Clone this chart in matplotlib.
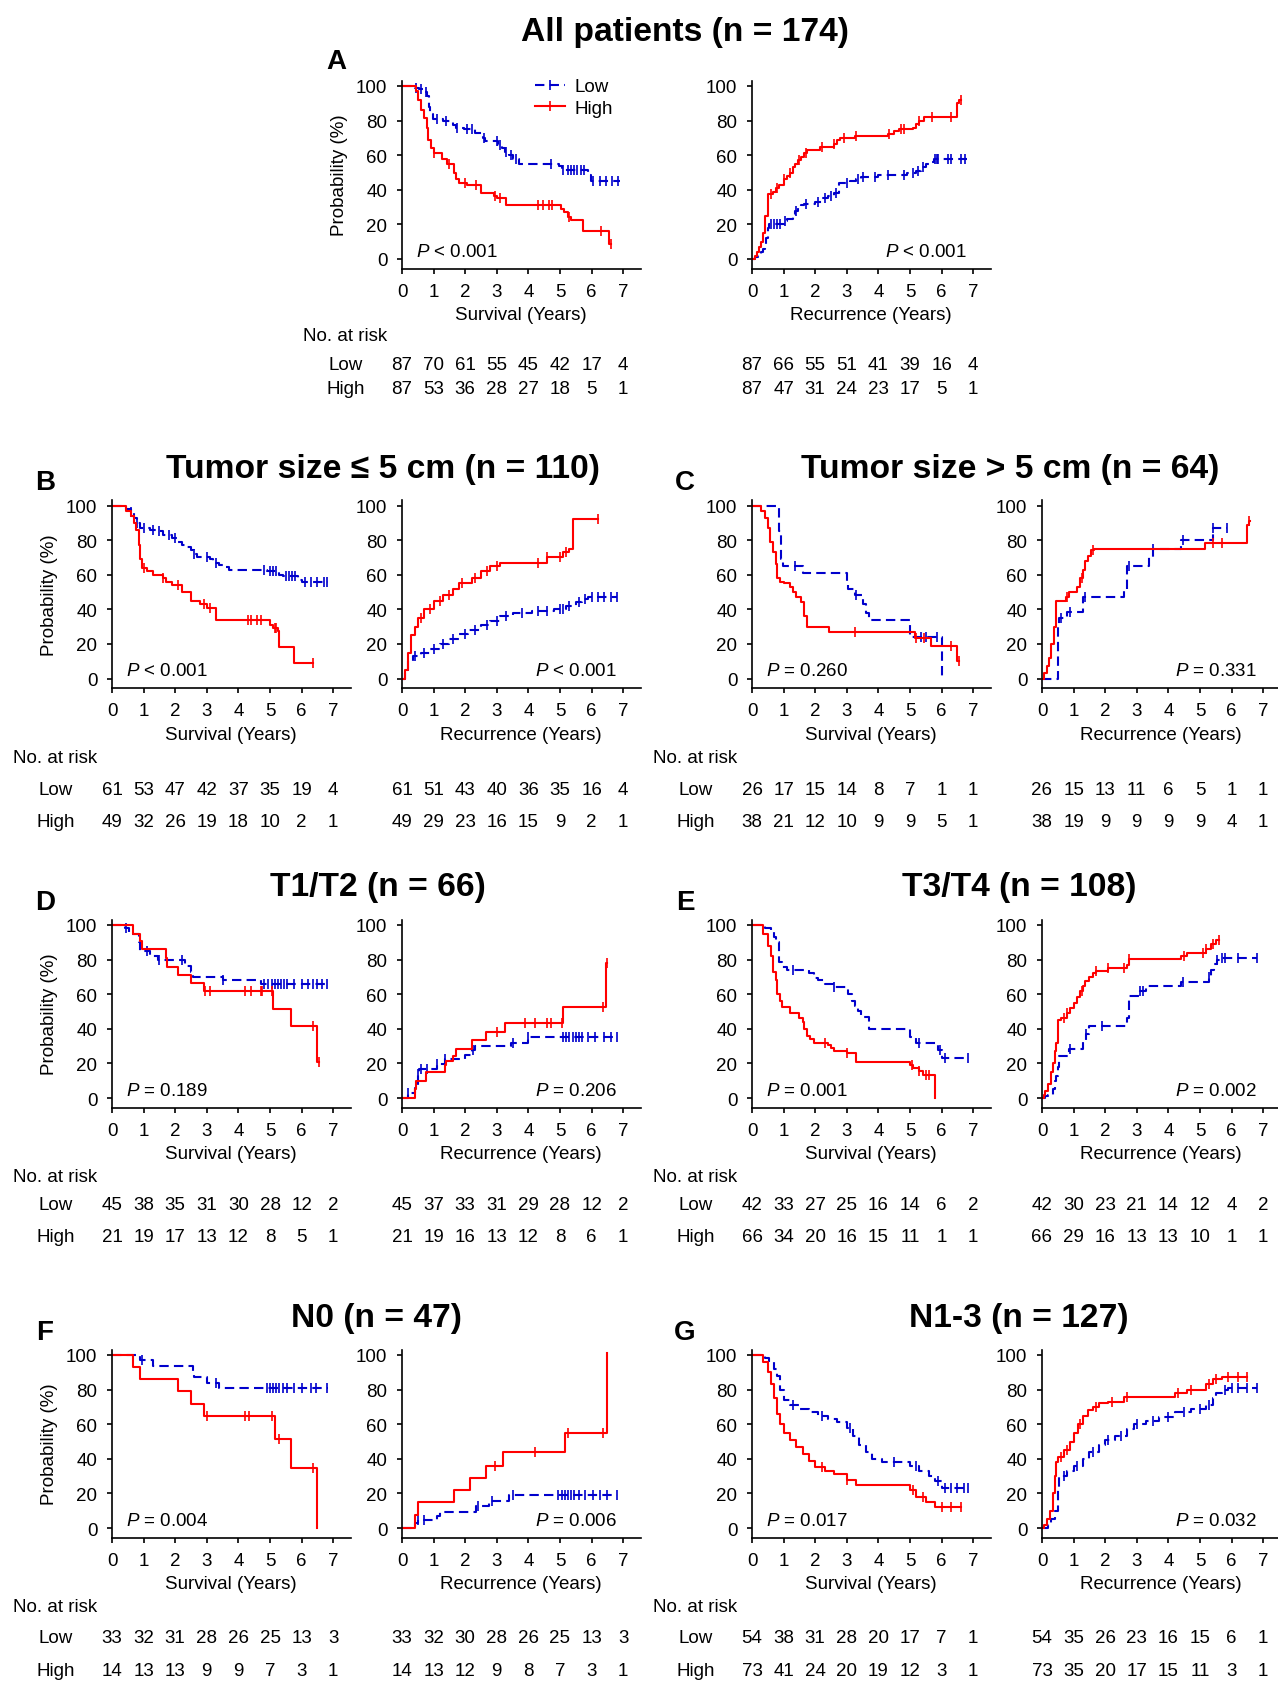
import numpy as np
import matplotlib
matplotlib.use('Agg')
import matplotlib.pyplot as plt
from matplotlib import font_manager
from matplotlib.lines import Line2D
from matplotlib.transforms import blended_transform_factory

# the original uses a condensed Helvetica-like face; take the narrow Liberation cut if it is there
_names = {f.name for f in font_manager.fontManager.ttflist}
if 'Liberation Sans Narrow' in _names:
    FONT, FS = 'Liberation Sans Narrow', 15.5
else:
    FONT, FS = 'Liberation Sans', 13.5
plt.rcParams['font.family'] = [FONT, 'Liberation Sans', 'DejaVu Sans']
plt.rcParams['mathtext.fontset'] = 'custom'
plt.rcParams['mathtext.rm'] = FONT
plt.rcParams['mathtext.it'] = FONT + ':italic'

# ---------------- data ----------------
years = [0, 1, 2, 3, 4, 5, 6, 7]

# A  all patients
a_os_low = [(0, 100), (0.4, 99), (0.55, 98), (0.7, 96.5), (0.8, 94), (0.85, 88), (0.9, 84), (0.97, 81),
            (1.3, 79.5), (1.6, 77.5), (1.7, 76), (1.95, 75), (2.3, 73), (2.55, 70), (2.62, 68), (3.05, 66),
            (3.15, 64), (3.25, 62), (3.4, 60), (3.5, 58), (3.7, 55), (4.98, 53.5), (5.05, 51.5), (5.9, 48.5),
            (5.97, 45), (6.9, 45)]
a_os_low_c = [0.45, 0.6, 0.75, 1.1, 1.4, 1.75, 2.05, 2.2, 2.6, 3.0, 3.1, 3.3, 3.45, 3.6, 4.7, 5.1, 5.25,
              5.35, 5.45, 5.55, 5.65, 5.75, 6.05, 6.25, 6.45, 6.65, 6.85]
a_os_high = [(0, 100), (0.45, 97), (0.5, 92), (0.6, 86), (0.7, 81.5), (0.78, 76), (0.83, 69), (0.93, 64),
             (1.0, 61), (1.27, 58), (1.43, 55), (1.65, 49.5), (1.7, 46.5), (1.8, 44), (2.07, 42.5), (2.5, 38),
             (2.9, 36.5), (3.0, 35), (3.29, 31), (5.04, 29), (5.14, 27), (5.25, 24.5), (5.35, 22.5),
             (5.73, 16), (6.55, 8.7), (6.6, 8.7)]
a_os_high_c = [1.0, 1.5, 2.0, 2.35, 2.95, 3.1, 4.3, 4.45, 4.65, 4.75, 5.3, 6.3, 6.6]
a_rec_low = [(0, 0), (0.1, 1), (0.2, 2), (0.3, 4), (0.35, 6), (0.4, 8), (0.45, 12), (0.5, 18), (0.55, 20),
             (1.0, 22), (1.1, 23), (1.3, 26), (1.35, 28), (1.45, 30), (1.55, 31), (1.65, 32), (2.0, 33),
             (2.2, 35), (2.4, 36.5), (2.6, 38), (2.75, 44), (3.1, 45), (3.3, 46.5), (3.45, 47.5), (4.0, 48.5),
             (4.9, 49.5), (5.2, 51), (5.35, 53), (5.5, 55), (5.6, 56), (5.75, 58), (6.8, 58)]
a_rec_low_c = [0.6, 0.7, 0.8, 0.9, 1.05, 1.4, 1.7, 2.1, 2.3, 2.5, 2.65, 3.0, 3.35, 3.5, 3.9, 4.3, 4.8, 5.1,
               5.25, 5.4, 5.8, 5.85, 5.9, 6.2, 6.3, 6.6, 6.75]
a_rec_high = [(0, 0), (0.08, 2), (0.15, 4), (0.22, 7), (0.28, 10), (0.35, 15), (0.42, 25), (0.5, 37.5),
              (0.65, 39), (0.75, 41), (0.85, 43), (1.0, 46), (1.1, 48), (1.2, 50), (1.3, 53), (1.37, 55),
              (1.45, 57), (1.55, 59), (1.65, 61), (1.75, 63), (2.15, 64.5), (2.6, 66.5), (2.7, 68.5),
              (2.8, 70), (3.25, 71), (4.3, 72.5), (4.5, 74), (4.65, 75), (5.1, 76), (5.2, 78), (5.3, 80),
              (5.45, 82), (6.5, 90), (6.55, 92), (6.6, 92)]
a_rec_high_c = [0.6, 0.8, 1.0, 1.2, 1.5, 1.7, 2.2, 2.6, 2.9, 3.3, 4.35, 4.7, 4.8, 5.3, 5.7, 6.3, 6.6]

# B  tumor size <= 5 cm
b_os_low = [(0, 100), (0.45, 98), (0.6, 96), (0.7, 93), (0.8, 90), (0.9, 87), (1.2, 86), (1.4, 85),
            (1.6, 83), (1.9, 81), (2.1, 79), (2.2, 77), (2.3, 76), (2.5, 74), (2.6, 72), (2.7, 70),
            (3.1, 69), (3.2, 67), (3.4, 65.5), (3.6, 64.5), (3.7, 63), (4.9, 62), (5.3, 60), (5.4, 59),
            (5.9, 57), (6.0, 56), (6.85, 56)]
b_os_low_c = [0.6, 0.8, 1.0, 1.3, 1.5, 1.8, 2.0, 2.6, 3.0, 3.3, 4.8, 5.0, 5.1, 5.2, 5.5, 5.6, 5.7, 5.8,
              6.1, 6.3, 6.5, 6.7, 6.8]
b_os_high = [(0, 100), (0.45, 97), (0.6, 94), (0.7, 90), (0.75, 86), (0.85, 77), (0.9, 69), (0.95, 64),
             (1.1, 62), (1.3, 60), (1.6, 58), (1.7, 56), (1.9, 54), (2.2, 50), (2.5, 45), (2.8, 43),
             (3.0, 41), (3.3, 34), (5.0, 31), (5.1, 29), (5.25, 27.5), (5.3, 18), (5.75, 9), (6.35, 9)]
b_os_high_c = [1.0, 1.6, 2.1, 2.9, 3.1, 4.3, 4.4, 4.6, 4.7, 5.15, 5.2, 6.35]
b_rec_low = [(0, 0), (0.1, 5), (0.2, 10), (0.35, 13), (0.6, 15), (0.9, 17), (1.2, 20), (1.5, 23), (1.8, 26),
             (2.1, 28), (2.5, 31), (2.8, 33), (3.1, 36), (3.5, 38), (4.1, 39), (4.8, 40), (5.2, 42),
             (5.5, 44), (5.7, 46), (5.9, 47), (6.8, 47)]
b_rec_low_c = [0.4, 0.7, 1.0, 1.3, 1.6, 2.0, 2.3, 2.7, 3.0, 3.3, 3.8, 4.3, 4.6, 5.0, 5.1, 5.3, 5.6, 5.8,
               6.0, 6.2, 6.4, 6.6, 6.8]
b_rec_high = [(0, 0), (0.1, 5), (0.2, 15), (0.3, 25), (0.4, 30), (0.5, 35), (0.7, 40), (1.0, 45), (1.3, 48),
              (1.6, 52), (1.8, 55), (2.2, 58), (2.5, 62), (2.8, 65), (3.1, 67), (4.6, 70), (5.1, 73),
              (5.3, 75), (5.4, 92), (6.2, 92)]
b_rec_high_c = [0.6, 0.9, 1.2, 1.5, 1.9, 2.3, 2.7, 3.0, 4.3, 4.6, 5.0, 5.2, 6.2]

# C  tumor size > 5 cm
c_os_low = [(0, 100), (0.85, 85), (0.92, 69), (0.97, 65), (1.6, 61), (3.0, 56), (3.05, 52), (3.25, 48),
            (3.5, 43), (3.6, 38), (3.7, 34), (5.0, 24), (6.0, 0)]
c_os_low_c = [1.35, 3.3, 5.35, 5.5, 5.85]
c_os_high = [(0, 100), (0.3, 97), (0.42, 93), (0.5, 87), (0.58, 79), (0.68, 73), (0.75, 66), (0.8, 58),
             (0.9, 56), (1.0, 55), (1.2, 53), (1.3, 50), (1.4, 47), (1.55, 44), (1.65, 36), (1.75, 30),
             (2.45, 27), (5.15, 23.5), (5.65, 19), (6.5, 10), (6.55, 10)]
c_os_high_c = [3.25, 5.2, 5.45, 6.3, 6.55]
c_rec_low = [(0, 0), (0.5, 30), (0.55, 35), (0.8, 38.5), (1.3, 47), (2.6, 52), (2.7, 65), (3.4, 70),
             (3.5, 75), (4.4, 80), (5.4, 87), (5.85, 87)]
c_rec_low_c = [0.6, 0.9, 1.35, 2.75, 3.5, 4.45, 5.4, 5.85]
c_rec_high = [(0, 0), (0.05, 3), (0.15, 7), (0.22, 12), (0.3, 20), (0.38, 30), (0.45, 45), (0.75, 47),
              (0.85, 50), (1.1, 53), (1.2, 58), (1.3, 63), (1.35, 68), (1.45, 71), (1.55, 74), (1.65, 75),
              (5.15, 78.5), (6.5, 89), (6.55, 91), (6.58, 91)]
c_rec_high_c = [0.8, 1.25, 1.6, 5.4, 5.7, 6.55]

# D  T1/T2
d_os_low = [(0, 100), (0.4, 98), (0.55, 95), (0.85, 90), (0.9, 85), (1.2, 82), (1.45, 80), (2.3, 76.5),
            (2.5, 73), (2.55, 70), (3.5, 68), (4.7, 66), (6.85, 66)]
d_os_low_c = [0.45, 1.1, 1.5, 2.2, 3.5, 4.8, 4.95, 5.05, 5.15, 5.25, 5.35, 5.45, 5.55, 5.75, 6.0, 6.2,
              6.35, 6.5, 6.65, 6.8]
d_os_high = [(0, 100), (0.65, 95), (0.9, 90.5), (0.95, 86), (1.7, 81), (1.75, 76), (2.1, 71), (2.5, 66.5),
             (2.9, 62), (5.1, 51.5), (5.65, 41.5), (6.5, 21), (6.55, 21)]
d_os_high_c = [2.95, 3.1, 4.2, 4.4, 4.7, 4.75, 5.05, 6.35, 6.55]
d_rec_low = [(0, 0), (0.2, 3), (0.4, 6), (0.5, 14), (0.55, 16.5), (1.1, 19.5), (1.35, 22.5), (2.0, 25),
             (2.2, 28), (2.3, 30), (3.45, 32), (4.0, 35), (6.8, 35)]
d_rec_low_c = [0.2, 0.5, 0.6, 0.8, 1.1, 1.35, 2.25, 3.5, 4.0, 5.1, 5.2, 5.3, 5.4, 5.5, 5.6, 5.7, 5.9, 6.1,
               6.4, 6.6, 6.8]
d_rec_high = [(0, 0), (0.4, 5), (0.45, 10), (0.75, 15), (1.35, 19), (1.4, 21.5), (1.6, 24.5), (1.7, 28.5),
              (2.2, 33.5), (2.65, 38), (3.25, 43.5), (5.1, 52.5), (6.45, 78), (6.5, 78)]
d_rec_high_c = [3.0, 3.9, 4.2, 4.6, 4.7, 5.05, 6.35, 6.5]

# E  T3/T4
e_os_low = [(0, 100), (0.4, 98), (0.6, 96), (0.7, 93), (0.75, 90), (0.85, 86), (0.87, 78.5), (0.95, 76),
            (1.1, 74), (1.8, 72), (1.95, 71), (2.0, 69.5), (2.1, 68), (2.3, 66), (2.55, 64), (3.0, 63),
            (3.05, 60), (3.15, 56), (3.25, 53), (3.35, 50), (3.45, 47), (3.7, 40), (5.0, 35), (5.2, 32),
            (5.9, 28), (6.0, 23), (6.85, 23)]
e_os_low_c = [1.3, 2.6, 5.3, 5.95, 6.1, 6.85]
e_os_high = [(0, 100), (0.35, 95), (0.5, 88), (0.6, 82), (0.65, 73), (0.75, 68), (0.8, 60), (0.9, 56),
             (0.95, 52.5), (1.2, 49), (1.5, 46.5), (1.6, 44), (1.65, 40), (1.75, 36), (1.85, 34), (1.95, 32),
             (2.4, 30.5), (2.5, 29), (2.6, 27), (3.0, 26), (3.3, 21), (5.0, 19), (5.1, 17.5), (5.3, 15.5),
             (5.4, 13.5), (5.8, 0)]
e_os_high_c = [2.3, 3.0, 5.05, 5.3, 5.5, 5.6]
e_rec_low = [(0, 0), (0.1, 1), (0.2, 2), (0.35, 5), (0.4, 10), (0.45, 13), (0.5, 18), (0.55, 24),
             (0.85, 28.5), (1.3, 33), (1.4, 37), (1.5, 41.5), (2.7, 46.5), (2.75, 59), (3.1, 62), (3.3, 64.5),
             (4.4, 67), (5.3, 70), (5.35, 74), (5.45, 77.5), (5.55, 79.5), (5.65, 81), (6.8, 81)]
e_rec_low_c = [0.9, 1.4, 1.9, 3.1, 3.2, 4.45, 5.3, 5.55, 5.7, 5.8, 6.2, 6.8]
e_rec_high = [(0, 0), (0.05, 2), (0.1, 4), (0.2, 8), (0.3, 15), (0.35, 20), (0.4, 27), (0.45, 32), (0.5, 45),
              (0.6, 46.5), (0.8, 49), (0.9, 52), (1.0, 55), (1.1, 58.5), (1.2, 62), (1.3, 65), (1.35, 67.5),
              (1.5, 70), (1.6, 72), (1.7, 73.5), (2.1, 75), (2.7, 77), (2.75, 80.5), (4.4, 82), (4.6, 84),
              (5.2, 86), (5.35, 89), (5.5, 91.5), (5.6, 91.5)]
e_rec_high_c = [0.7, 0.8, 1.25, 1.7, 2.1, 2.6, 2.75, 4.5, 5.1, 5.2, 5.4, 5.6]

# F  N0
f_os_low = [(0, 100), (0.9, 97), (1.3, 93.5), (2.55, 90), (2.6, 87.5), (3.0, 84), (3.4, 81), (6.85, 81)]
f_os_low_c = [0.95, 3.3, 4.9, 5.0, 5.1, 5.2, 5.3, 5.4, 5.55, 5.75, 6.0, 6.3, 6.45, 6.8]
f_os_high = [(0, 100), (0.65, 93), (0.9, 86), (2.1, 79), (2.5, 71.5), (2.9, 64.5), (5.15, 51.5),
             (5.65, 34.5), (6.5, 0)]
f_os_high_c = [3.0, 4.2, 4.35, 5.05, 5.3, 6.35]
f_rec_low = [(0, 0), (0.4, 3), (0.5, 4.5), (1.1, 7), (1.2, 9.5), (2.35, 12.5), (2.75, 15.5), (3.4, 19),
             (6.8, 19)]
f_rec_low_c = [0.5, 0.7, 2.4, 2.85, 3.5, 4.95, 5.05, 5.15, 5.25, 5.35, 5.45, 5.6, 5.8, 6.05, 6.25, 6.5, 6.8]
f_rec_high = [(0, 0), (0.4, 7.5), (0.5, 15), (1.65, 22), (2.15, 29), (2.65, 36), (3.2, 44), (5.15, 55),
              (6.5, 101)]
f_rec_high_c = [2.95, 4.2, 5.25, 6.35]

# G  N1-3
g_os_low = [(0, 100), (0.4, 98), (0.55, 96), (0.7, 92), (0.8, 88), (0.9, 80), (1.0, 74), (1.2, 71),
            (1.5, 69), (1.8, 67), (2.1, 65), (2.4, 63), (2.7, 61), (3.0, 58), (3.2, 53), (3.4, 48),
            (3.6, 44), (3.8, 40), (4.1, 38), (5.0, 36), (5.3, 33), (5.6, 30), (5.8, 27), (6.0, 23),
            (6.85, 23)]
g_os_low_c = [1.3, 2.2, 3.1, 4.5, 5.2, 5.9, 6.1, 6.3, 6.5, 6.7, 6.85]
g_os_high = [(0, 100), (0.35, 96), (0.5, 90), (0.6, 83), (0.7, 75), (0.8, 66), (0.9, 60), (1.0, 55),
             (1.2, 51), (1.4, 47), (1.6, 43), (1.8, 39), (2.0, 35), (2.3, 33), (2.6, 31), (3.0, 28),
             (3.3, 25), (5.0, 22), (5.2, 18), (5.5, 15), (5.8, 12), (6.6, 12)]
g_os_high_c = [2.2, 3.0, 5.1, 5.4, 6.0, 6.3, 6.6]
g_rec_low = [(0, 0), (0.2, 2), (0.3, 5), (0.4, 10), (0.5, 22), (0.55, 30), (0.8, 33), (1.0, 36), (1.3, 40),
             (1.5, 44), (1.8, 48), (2.0, 51), (2.3, 53), (2.7, 57), (2.9, 60), (3.3, 62), (3.7, 64),
             (4.2, 67), (4.7, 69), (5.2, 71), (5.4, 75), (5.5, 78), (5.7, 80), (5.9, 81), (6.8, 81)]
g_rec_low_c = [0.7, 1.1, 1.6, 2.1, 2.5, 3.0, 3.5, 4.0, 4.5, 5.0, 5.3, 5.8, 6.0, 6.2, 6.5, 6.8]
g_rec_high = [(0, 0), (0.05, 2), (0.15, 5), (0.25, 10), (0.35, 20), (0.4, 30), (0.45, 38), (0.5, 41),
              (0.7, 45), (0.9, 50), (1.0, 55), (1.15, 60), (1.3, 65), (1.45, 68), (1.6, 70), (1.8, 72),
              (2.1, 73), (2.6, 76), (4.2, 78), (4.6, 80), (5.2, 83), (5.4, 86), (5.7, 87), (6.5, 87)]
g_rec_high_c = [0.6, 0.8, 1.2, 1.7, 2.2, 2.7, 4.3, 4.7, 5.3, 5.5, 5.9, 6.2, 6.5]

# numbers at risk (Low, High)
a_os_risk = ([87, 70, 61, 55, 45, 42, 17, 4], [87, 53, 36, 28, 27, 18, 5, 1])
a_rec_risk = ([87, 66, 55, 51, 41, 39, 16, 4], [87, 47, 31, 24, 23, 17, 5, 1])
b_os_risk = ([61, 53, 47, 42, 37, 35, 19, 4], [49, 32, 26, 19, 18, 10, 2, 1])
b_rec_risk = ([61, 51, 43, 40, 36, 35, 16, 4], [49, 29, 23, 16, 15, 9, 2, 1])
c_os_risk = ([26, 17, 15, 14, 8, 7, 1, 1], [38, 21, 12, 10, 9, 9, 5, 1])
c_rec_risk = ([26, 15, 13, 11, 6, 5, 1, 1], [38, 19, 9, 9, 9, 9, 4, 1])
d_os_risk = ([45, 38, 35, 31, 30, 28, 12, 2], [21, 19, 17, 13, 12, 8, 5, 1])
d_rec_risk = ([45, 37, 33, 31, 29, 28, 12, 2], [21, 19, 16, 13, 12, 8, 6, 1])
e_os_risk = ([42, 33, 27, 25, 16, 14, 6, 2], [66, 34, 20, 16, 15, 11, 1, 1])
e_rec_risk = ([42, 30, 23, 21, 14, 12, 4, 2], [66, 29, 16, 13, 13, 10, 1, 1])
f_os_risk = ([33, 32, 31, 28, 26, 25, 13, 3], [14, 13, 13, 9, 9, 7, 3, 1])
f_rec_risk = ([33, 32, 30, 28, 26, 25, 13, 3], [14, 13, 12, 9, 8, 7, 3, 1])
g_os_risk = ([54, 38, 31, 28, 20, 17, 7, 1], [73, 41, 24, 20, 19, 12, 3, 1])
g_rec_risk = ([54, 35, 26, 23, 16, 15, 6, 1], [73, 35, 20, 17, 15, 11, 3, 1])

p_values = {'A': ('< 0.001', '< 0.001'), 'B': ('< 0.001', '< 0.001'), 'C': ('= 0.260', '= 0.331'),
            'D': ('= 0.189', '= 0.206'), 'E': ('= 0.001', '= 0.002'), 'F': ('= 0.004', '= 0.006'),
            'G': ('= 0.017', '= 0.032')}

titles = {'A': 'All patients (n = 174)', 'B': 'Tumor size \u2264 5 cm (n = 110)',
          'C': 'Tumor size > 5 cm (n = 64)', 'D': 'T1/T2 (n = 66)', 'E': 'T3/T4 (n = 108)',
          'F': 'N0 (n = 47)', 'G': 'N1-3 (n = 127)'}

# ---------------- layout (pixels of the 1278 x 1683 canvas) ----------------
W, H = 1278, 1683
BLUE = '#0000cc'
RED = '#ff0000'
PX_YEAR = 31.6
PX_PCT = 1.73
XLIM = (0, 7.55)
YLIM = (-5.5, 103)
BOLD = ['Liberation Sans', 'DejaVu Sans']
TITLE_FS = 24.2

fig = plt.figure(figsize=(W / 100, H / 100), dpi=100)


def fx(px):
    return px / W


def fy(py):
    return 1 - py / H


def draw_curve(ax, steps, cens, color, ls):
    t = np.array([p[0] for p in steps], dtype=float)
    v = np.array([p[1] for p in steps], dtype=float)
    ax.step(t, v, where='post', color=color, lw=1.5, linestyle=ls, clip_on=False)
    c = np.array(cens, dtype=float)
    idx = np.searchsorted(t, c, side='right') - 1
    ax.plot(c, v[idx], linestyle='none', marker='|', ms=7, mew=1.2, color=color, clip_on=False)


def km_axes(x0, y0, low, low_c, high, high_c, risk, risk_y, kind, pval, ylabel):
    bottom_px = y0 - YLIM[0] * PX_PCT
    top_px = y0 - YLIM[1] * PX_PCT
    ax = fig.add_axes([fx(x0), fy(bottom_px), (XLIM[1] - XLIM[0]) * PX_YEAR / W,
                       (bottom_px - top_px) / H])
    draw_curve(ax, low, low_c, BLUE, (0, (4.5, 2.5)))
    draw_curve(ax, high, high_c, RED, '-')
    ax.set_xlim(*XLIM)
    ax.set_ylim(*YLIM)
    ax.set_xticks(years)
    ax.set_yticks([0, 20, 40, 60, 80, 100])
    for s in ['top', 'right']:
        ax.spines[s].set_visible(False)
    for s in ['left', 'bottom']:
        ax.spines[s].set_linewidth(1.2)
    ax.tick_params(axis='both', direction='out', length=3.6, width=1.2, labelsize=FS)
    ax.tick_params(axis='y', pad=7)
    ax.tick_params(axis='x', pad=6.5)
    if kind == 'os':
        ax.set_xlabel('Survival (Years)', fontsize=FS, labelpad=5)
        ax.text(0.45, 4.5, '$P$ ' + pval, fontsize=FS, ha='left', va='center')
    else:
        ax.set_xlabel('Recurrence (Years)', fontsize=FS, labelpad=5)
        ax.text(6.8, 4.5, '$P$ ' + pval, fontsize=FS, ha='right', va='center')
    if ylabel:
        ax.set_ylabel('Probability (%)', fontsize=FS, labelpad=6)
    tr = blended_transform_factory(ax.transData, fig.transFigure)
    for yr, n in zip(years, risk[0]):
        ax.text(yr, fy(risk_y[1]), str(n), transform=tr, ha='center', va='center', fontsize=FS)
    for yr, n in zip(years, risk[1]):
        ax.text(yr, fy(risk_y[2]), str(n), transform=tr, ha='center', va='center', fontsize=FS)
    return ax


def risk_labels(x0, risk_y):
    fig.text(fx(x0 - 99), fy(risk_y[0]), 'No. at risk', ha='left', va='center', fontsize=FS)
    fig.text(fx(x0 - 74), fy(risk_y[1]), 'Low', ha='left', va='center', fontsize=FS)
    fig.text(fx(x0 - 75), fy(risk_y[2]), 'High', ha='left', va='center', fontsize=FS)


row_a_y = (336.5, 365.5, 389)
row_b_y = (759, 791, 822.5)
row_d_y = (1177.5, 1205.5, 1237.5)
row_f_y = (1607.5, 1639, 1672)

# row A
ax_a = km_axes(402, 260, a_os_low, a_os_low_c, a_os_high, a_os_high_c, a_os_risk, row_a_y, 'os',
               p_values['A'][0], True)
km_axes(752, 260, a_rec_low, a_rec_low_c, a_rec_high, a_rec_high_c, a_rec_risk, row_a_y, 'rec',
        p_values['A'][1], False)
risk_labels(402, row_a_y)
handles = [Line2D([], [], color=BLUE, lw=1.5, ls=(0, (4.5, 2.5)), marker='|', ms=7, mew=1.2),
           Line2D([], [], color=RED, lw=1.5, marker='|', ms=7, mew=1.2)]
ax_a.legend(handles, ['Low', 'High'], loc='upper left', bbox_to_anchor=(fx(535), fy(79)),
            bbox_transform=fig.transFigure, frameon=False, fontsize=FS, handlelength=1.6,
            handletextpad=0.5, labelspacing=0.25, borderpad=0, borderaxespad=0, numpoints=1)
fig.text(fx(685), fy(32), titles['A'], ha='center', va='center', fontsize=TITLE_FS,
         fontweight='bold', family=BOLD)
fig.text(fx(336), fy(62), 'A', ha='center', va='center', fontsize=20, fontweight='bold', family=BOLD)

# rows B-G
rows = [
    ('B', 112, 679.5, row_b_y, b_os_low, b_os_low_c, b_os_high, b_os_high_c, b_os_risk,
     b_rec_low, b_rec_low_c, b_rec_high, b_rec_high_c, b_rec_risk, 383, 470),
    ('C', 752, 679.5, row_b_y, c_os_low, c_os_low_c, c_os_high, c_os_high_c, c_os_risk,
     c_rec_low, c_rec_low_c, c_rec_high, c_rec_high_c, c_rec_risk, 1010, 470),
    ('D', 112, 1099, row_d_y, d_os_low, d_os_low_c, d_os_high, d_os_high_c, d_os_risk,
     d_rec_low, d_rec_low_c, d_rec_high, d_rec_high_c, d_rec_risk, 378, 888),
    ('E', 752, 1099, row_d_y, e_os_low, e_os_low_c, e_os_high, e_os_high_c, e_os_risk,
     e_rec_low, e_rec_low_c, e_rec_high, e_rec_high_c, e_rec_risk, 1019, 888),
    ('F', 112, 1529, row_f_y, f_os_low, f_os_low_c, f_os_high, f_os_high_c, f_os_risk,
     f_rec_low, f_rec_low_c, f_rec_high, f_rec_high_c, f_rec_risk, 376, 1318),
    ('G', 752, 1529, row_f_y, g_os_low, g_os_low_c, g_os_high, g_os_high_c, g_os_risk,
     g_rec_low, g_rec_low_c, g_rec_high, g_rec_high_c, g_rec_risk, 1019, 1318),
]
for (lab, x0, y0, ry, osl, oslc, osh, oshc, osr, rl, rlc, rh, rhc, rr, tx, ty) in rows:
    left_col = x0 < 400
    km_axes(x0, y0, osl, oslc, osh, oshc, osr, ry, 'os', p_values[lab][0], left_col)
    km_axes(x0 + 290, y0, rl, rlc, rh, rhc, rr, ry, 'rec', p_values[lab][1], False)
    risk_labels(x0, ry)
    fig.text(fx(tx), fy(ty), titles[lab], ha='center', va='center', fontsize=TITLE_FS,
             fontweight='bold', family=BOLD)
    fig.text(fx(x0 - 67), fy(y0 - 196), lab, ha='center', va='center', fontsize=20,
             fontweight='bold', family=BOLD)

fig.savefig('out.png', dpi=100)
